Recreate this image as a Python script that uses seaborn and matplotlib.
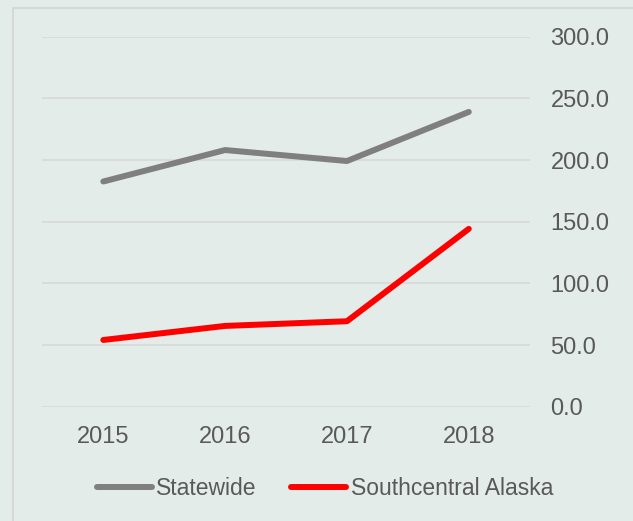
import matplotlib
matplotlib.use("Agg")
import matplotlib.pyplot as plt
import seaborn as sns
import pandas as pd
from matplotlib.patches import Rectangle

years = ["2015", "2016", "2017", "2018"]
statewide = [182.6, 208.1, 199.2, 239.0]
southcentral = [54.1, 65.5, 69.3, 144.2]
y_ticks = [0, 50, 100, 150, 200, 250, 300]

df = pd.DataFrame({
    "Year": years * 2,
    "Value": statewide + southcentral,
    "Series": ["Statewide"] * 4 + ["Southcentral Alaska"] * 4,
})

sns.set_theme(style="white")
plt.rcParams['font.family'] = ['Liberation Sans', 'DejaVu Sans']

BG = "#E3ECE9"
TXT = "#595959"
fig = plt.figure(figsize=(6.33, 5.21), dpi=100, facecolor=BG)
ax = fig.add_axes([42.4 / 633, 1 - 406.7 / 521, (529.7 - 42.4) / 633, 370 / 521])
ax.set_facecolor(BG)

sns.lineplot(data=df, x="Year", y="Value", hue="Series",
             palette={"Statewide": "#7F7F7F", "Southcentral Alaska": "#FF0000"},
             linewidth=4.3, ax=ax, legend=True, sort=False)
for ln in ax.get_lines():
    ln.set_solid_capstyle("round")
    ln.set_solid_joinstyle("round")

ax.set_xlim(-0.5, 3.5)
ax.set_ylim(0, 300)
ax.set_yticks(y_ticks)
ax.set_yticklabels([f"{v:.1f}" for v in y_ticks])
ax.yaxis.tick_right()
ax.grid(axis="y", color="#D7D9D8", linewidth=1.2)
ax.set_axisbelow(True)
for s in ax.spines.values():
    s.set_visible(False)
ax.tick_params(axis="y", length=0, pad=15, labelsize=17, labelcolor=TXT)
ax.tick_params(axis="x", length=0, pad=14, labelsize=17, labelcolor=TXT)
ax.set_xlabel("")
ax.set_ylabel("")

handles, labels = ax.get_legend_handles_labels()
ax.get_legend().remove()
leg = fig.legend(handles, labels, loc="center", bbox_to_anchor=(0.513, 1 - 488.7 / 521),
                 ncol=2, frameon=False, fontsize=16.5, handlelength=2.4,
                 handletextpad=0.2, columnspacing=1.5, labelcolor=TXT)
for h in leg.get_lines():
    h.set_linewidth(4.3)
    h.set_solid_capstyle("round")

fig.patches.append(Rectangle((12.5 / 633, -0.05), 1.0, 1 - 7.5 / 521 + 0.05,
                             transform=fig.transFigure, fill=False,
                             edgecolor="#D6D8D7", linewidth=1.5, zorder=0))

fig.savefig("out.png", dpi=100, facecolor=BG)
